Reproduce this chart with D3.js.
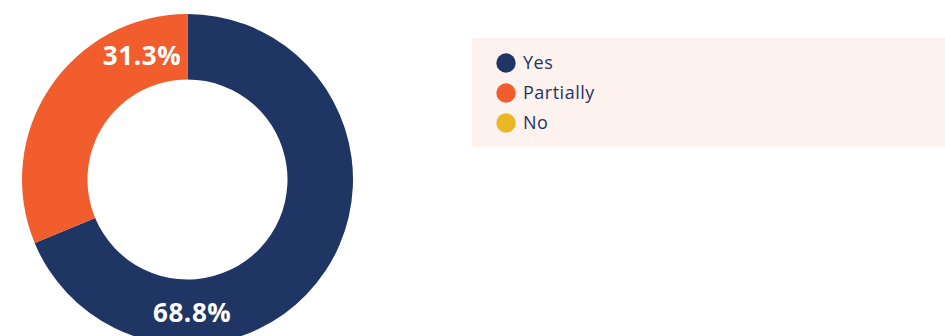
<!DOCTYPE html>
<html>
<head>
<meta charset="utf-8">
<script src="https://cdn.jsdelivr.net/npm/d3@7"></script>
<style>
  html, body { margin: 0; padding: 0; background: #ffffff; }
  svg { display: block; }
</style>
</head>
<body>
<svg id="chart" width="945" height="336"></svg>
<script>
// Survey answers and their shares (%)
const categories = ["Yes", "Partially", "No"];
const values = [68.8, 31.3, 0];
const valueLabels = ["68.8%", "31.3%", ""];
const colors = ["#1f3564", "#f15d2c", "#ebb625"];

const svg = d3.select("#chart");
const cx = 187.5, cy = 179.5;
const outerR = 165.5, innerR = 100;

const color = d3.scaleOrdinal().domain(categories).range(colors);

const data = categories.map((c, i) => ({ cat: c, value: values[i], label: valueLabels[i] }));

const pie = d3.pie().sort(null).value(d => d.value);
const arc = d3.arc().innerRadius(innerR).outerRadius(outerR);
const arcs = pie(data);

const g = svg.append("g").attr("transform", `translate(${cx},${cy})`);

g.selectAll("path.slice")
  .data(arcs.filter(a => a.data.value > 0))
  .join("path")
  .attr("class", "slice")
  .attr("d", arc)
  .attr("fill", d => color(d.data.cat));

// Percentage labels sit in the ring; each is nudged toward the top / bottom of the donut
const labelAngle = {
  "Yes": a => Math.PI - 0.035,
  "Partially": a => a.endAngle - 0.35
};
const midR = (innerR + outerR) / 2;
g.selectAll("text.pct")
  .data(arcs.filter(a => a.data.value > 0))
  .join("text")
  .attr("class", "pct")
  .attr("x", d => midR * Math.sin(labelAngle[d.data.cat](d)))
  .attr("y", d => -midR * Math.cos(labelAngle[d.data.cat](d)))
  .attr("text-anchor", "middle")
  .attr("dominant-baseline", "central")
  .attr("fill", "#ffffff")
  .attr("font-family", "'Open Sans', sans-serif")
  .attr("font-weight", 700)
  .attr("font-size", 26)
  .attr("letter-spacing", 0.6)
  .text(d => d.data.label);

// Legend panel
const legend = svg.append("g");
legend.append("rect")
  .attr("x", 472).attr("y", 38)
  .attr("width", 473).attr("height", 109)
  .attr("fill", "#fdf2ed");

const rowY = d3.scalePoint().domain(categories).range([63, 123]);

const items = legend.selectAll("g.item")
  .data(categories)
  .join("g")
  .attr("class", "item")
  .attr("transform", d => `translate(506,${rowY(d)})`);

items.append("circle")
  .attr("r", 9.7)
  .attr("fill", d => color(d));

items.append("text")
  .attr("x", 17)
  .attr("y", -1)
  .attr("dominant-baseline", "central")
  .attr("fill", "#1f3564")
  .attr("font-family", "'Open Sans', sans-serif")
  .attr("font-size", 18)
  .attr("letter-spacing", 0.5)
  .text(d => d);
</script>
</body>
</html>
